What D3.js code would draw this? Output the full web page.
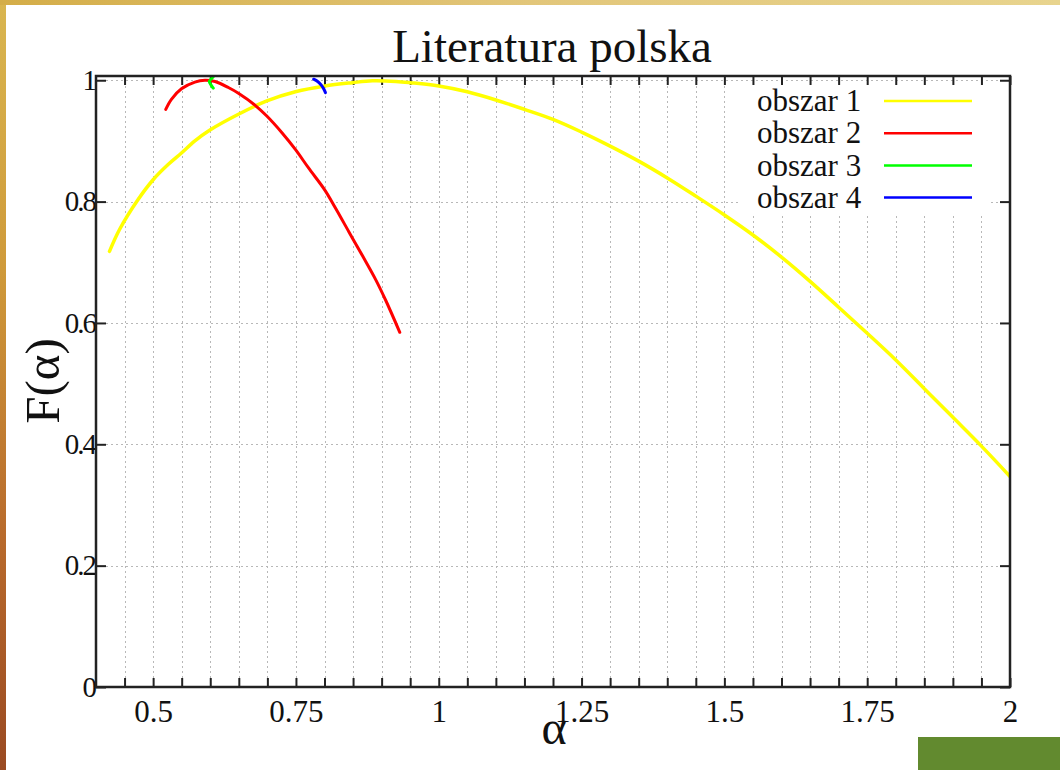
<!DOCTYPE html>
<html>
<head>
<meta charset="utf-8">
<script src="https://cdn.jsdelivr.net/npm/d3@7"></script>
<style>
  body { margin: 0; padding: 0; background: #fff; }
  svg { display: block; }
  text { font-family: "Liberation Serif", "Times New Roman", serif; fill: #111; }
</style>
</head>
<body>
<script>

// series
var alpha1 = [0.4236, 0.4412, 0.4734, 0.5, 0.5262, 0.5496, 0.5731, 0.5995, 0.6493, 0.6991, 0.749, 0.8006, 0.8487, 0.8838, 0.925, 0.95, 1.0, 1.05, 1.1, 1.15, 1.2, 1.25, 1.3, 1.35, 1.4, 1.45, 1.5, 1.55, 1.6, 1.65, 1.7, 1.75, 1.8, 1.85, 1.9, 1.95, 2.0];
var F1     = [0.718, 0.754, 0.803, 0.836, 0.861, 0.880, 0.900, 0.918, 0.944, 0.966, 0.981, 0.9906, 0.996, 0.999, 0.998, 0.996, 0.9906, 0.981, 0.9675, 0.952, 0.9355, 0.9146, 0.8915, 0.8667, 0.839, 0.809, 0.778, 0.745, 0.7085, 0.6685, 0.626, 0.583, 0.539, 0.4917, 0.4444, 0.397, 0.347];

var alpha2 = [0.5221, 0.532, 0.5496, 0.5731, 0.5907, 0.6083, 0.6317, 0.6493, 0.6786, 0.699, 0.7255, 0.749, 0.7724, 0.8006, 0.8194, 0.8428, 0.8663, 0.8898, 0.9073, 0.9318];
var F2     = [0.952, 0.9686, 0.986, 0.997, 1.0, 0.998, 0.988, 0.9785, 0.9587, 0.941, 0.9135, 0.886, 0.855, 0.819, 0.789, 0.750, 0.711, 0.671, 0.637, 0.5846];

var alpha3 = [0.6053, 0.6015, 0.5983, 0.6015, 0.6053];
var F3     = [1.006, 1.002, 0.998, 0.992, 0.987];

var alpha4 = [0.781, 0.788, 0.793, 0.798, 0.8017];
var F4     = [1.0017, 0.998, 0.9934, 0.987, 0.9796];

var seriesNames  = ["obszar 1", "obszar 2", "obszar 3", "obszar 4"];
var seriesColors = ["#ffff00", "#ff0000", "#00ff00", "#0000ff"];

var xMinorTicks = d3.range(9, 41).map(function(i) { return i * 0.05; });
var xLabelTicks = [0.5, 0.75, 1, 1.25, 1.5, 1.75, 2];
var yTicks = [0, 0.2, 0.4, 0.6, 0.8, 1];

var width = 1060, height = 770;
var pLeft = 96, pRight = 1010, pTop = 76, pBottom = 687;

var svg = d3.select("body").append("svg")
    .attr("width", width)
    .attr("height", height);

// slide background edges
var defs = svg.append("defs");
var g1 = defs.append("linearGradient").attr("id", "edge").attr("x1", 0).attr("y1", 0).attr("x2", 0).attr("y2", 1);
g1.append("stop").attr("offset", "0%").attr("stop-color", "#d9b650");
g1.append("stop").attr("offset", "35%").attr("stop-color", "#cf9a3a");
g1.append("stop").attr("offset", "70%").attr("stop-color", "#b86a2c");
g1.append("stop").attr("offset", "100%").attr("stop-color", "#9a4a22");
var g2 = defs.append("linearGradient").attr("id", "topedge").attr("x1", 0).attr("y1", 0).attr("x2", 1).attr("y2", 0);
g2.append("stop").attr("offset", "0%").attr("stop-color", "#d4ad48");
g2.append("stop").attr("offset", "50%").attr("stop-color", "#e2c67a");
g2.append("stop").attr("offset", "100%").attr("stop-color", "#e8d48e");

svg.append("rect").attr("x", 0).attr("y", 0).attr("width", 6).attr("height", height).attr("fill", "url(#edge)");
svg.append("rect").attr("x", 0).attr("y", 0).attr("width", width).attr("height", 5).attr("fill", "url(#topedge)");
svg.append("rect").attr("x", 918).attr("y", 737).attr("width", 142).attr("height", 33).attr("fill", "#628a2f");

var x = d3.scaleLinear().domain([0.4, 2]).range([pLeft, pRight]);
var y = d3.scaleLinear().domain([0, 1.007]).range([pBottom, pTop]);

// grid
var grid = svg.append("g").attr("stroke", "#b8b8b8").attr("stroke-width", 1).attr("stroke-dasharray", "2,3");
grid.selectAll(".vg").data(xMinorTicks.filter(function(d) { return d < 1.999; }))
  .enter().append("line")
    .attr("x1", function(d) { return Math.round(x(d)) + 0.5; })
    .attr("x2", function(d) { return Math.round(x(d)) + 0.5; })
    .attr("y1", pTop).attr("y2", pBottom);
grid.selectAll(".hg").data(yTicks.filter(function(d) { return d > 0; }))
  .enter().append("line")
    .attr("x1", pLeft).attr("x2", pRight)
    .attr("y1", function(d) { return Math.round(y(d)) + 0.5; })
    .attr("y2", function(d) { return Math.round(y(d)) + 0.5; });

// legend backing
svg.append("rect").attr("x", 740).attr("y", 86).attr("width", 250).attr("height", 129).attr("fill", "#fff");

// axes
var fmtX = function(d) {
  var hit = xLabelTicks.filter(function(v) { return Math.abs(v - d) < 1e-6; });
  return hit.length ? String(hit[0]) : "";
};

var xb = svg.append("g").attr("transform", "translate(0," + pBottom + ")")
  .call(d3.axisBottom(x).tickValues(xMinorTicks).tickSize(-9).tickPadding(13).tickFormat(fmtX));
var xt = svg.append("g").attr("transform", "translate(0," + pTop + ")")
  .call(d3.axisTop(x).tickValues(xMinorTicks).tickSize(-9).tickFormat(""));
var yl = svg.append("g").attr("transform", "translate(" + pLeft + ",0)")
  .call(d3.axisLeft(y).tickValues(yTicks).tickSize(-10).tickPadding(1).tickFormat(function(d) { return String(d); }));
var yr = svg.append("g").attr("transform", "translate(" + pRight + ",0)")
  .call(d3.axisRight(y).tickValues(yTicks).tickSize(-10).tickFormat(""));

[xb, xt, yl, yr].forEach(function(a) {
  a.select(".domain").remove();
  a.selectAll(".tick line").attr("stroke", "#222").attr("stroke-width", 2);
});
xb.selectAll(".tick text").attr("font-size", 31).attr("fill", "#111")
  .style("font-family", '"Liberation Serif", "Times New Roman", serif');
yl.selectAll(".tick text").attr("font-size", 29).attr("fill", "#111").attr("letter-spacing", -2)
  .style("font-family", '"Liberation Serif", "Times New Roman", serif');

// curves
var line = d3.line().curve(d3.curveCatmullRom)
  .x(function(d) { return x(d[0]); }).y(function(d) { return y(d[1]); });
var series = [
  d3.zip(alpha1, F1),
  d3.zip(alpha2, F2),
  d3.zip(alpha3, F3),
  d3.zip(alpha4, F4)
];
defs.append("clipPath").attr("id", "plot").append("rect")
  .attr("x", pLeft).attr("y", pTop).attr("width", pRight - pLeft).attr("height", pBottom - pTop);

svg.append("g").attr("clip-path", "url(#plot)")
  .selectAll("path").data(series)
  .enter().append("path")
    .attr("d", line)
    .attr("fill", "none")
    .attr("stroke", function(d, i) { return seriesColors[i]; })
    .attr("stroke-width", function(d, i) { return i == 0 ? 3.5 : 3; })
    .attr("stroke-linejoin", "round")
    .attr("stroke-linecap", "round");

// frame
svg.append("rect").attr("x", pLeft).attr("y", pTop).attr("width", pRight - pLeft).attr("height", pBottom - pTop)
  .attr("fill", "none").attr("stroke", "#222").attr("stroke-width", 2.5);

// legend
var leg = svg.append("g");
seriesNames.forEach(function(name, i) {
  var yy = 101 + i * 32.2;
  leg.append("text").attr("x", 757).attr("y", yy).attr("dy", "0.33em")
    .attr("font-size", 31).text(name);
  leg.append("line").attr("x1", 884).attr("x2", 972).attr("y1", yy).attr("y2", yy)
    .attr("stroke", seriesColors[i]).attr("stroke-width", 2.5);
});

// titles
svg.append("text").attr("x", 552).attr("y", 62).attr("text-anchor", "middle")
  .attr("font-size", 47).text("Literatura polska");
svg.append("text").attr("transform", "translate(59,381) rotate(-90)").attr("text-anchor", "middle")
  .attr("font-size", 49).text("F(α)");
svg.append("text").attr("x", 554).attr("y", 744).attr("text-anchor", "middle")
  .attr("font-size", 48).text("α");

</script>
</body>
</html>
